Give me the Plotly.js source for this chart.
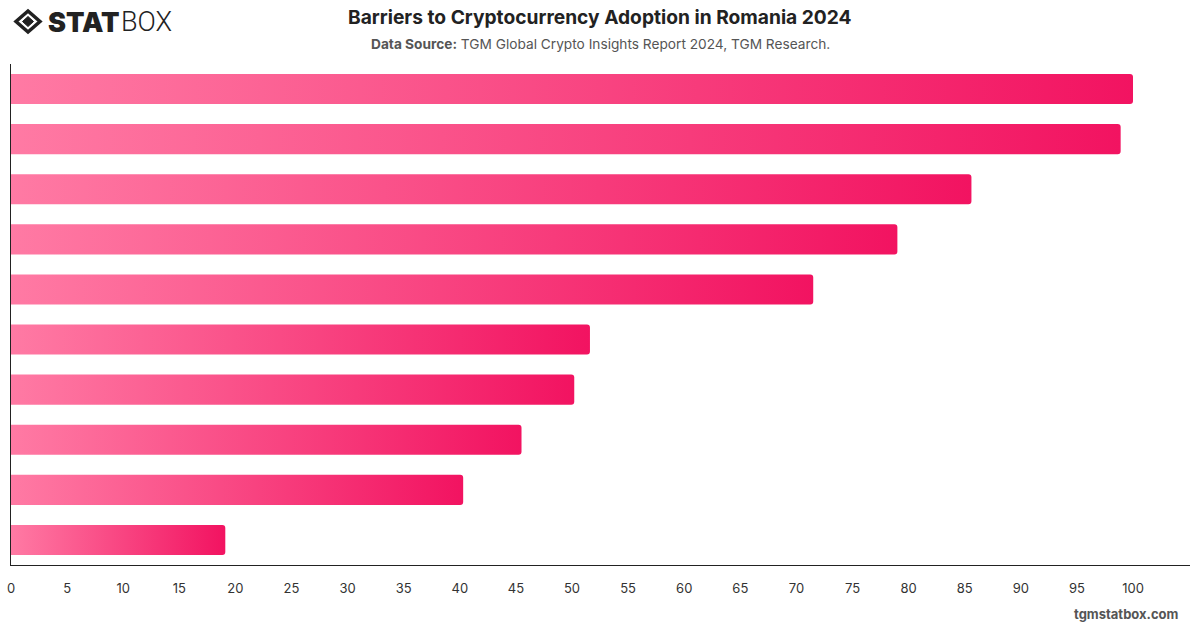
<!DOCTYPE html>
<html>
<head>
<meta charset="utf-8">
<script src="https://cdn.plot.ly/plotly-3.0.1.min.js"></script>
<style>
  html, body { margin: 0; padding: 0; background: #fff; }
  #chart { width: 1200px; height: 628px; }
</style>
</head>
<body>
<div id="chart"></div>
<script>
// Barriers ranked by share of respondents (index, top barrier = 100)
const categories = [
  "Barrier 1", "Barrier 2", "Barrier 3", "Barrier 4", "Barrier 5",
  "Barrier 6", "Barrier 7", "Barrier 8", "Barrier 9", "Barrier 10"
];
const values = [100, 98.9, 85.6, 79.0, 71.5, 51.6, 50.2, 45.5, 40.3, 19.1];
const xTicks = [0, 5, 10, 15, 20, 25, 30, 35, 40, 45, 50, 55, 60, 65, 70, 75, 80, 85, 90, 95, 100];

const W = 1200, H = 628;
const M = { l: 11, r: 10, t: 64, b: 63 };
// pixel -> paper helpers for the header/footer decorations
const px = x => (x - M.l) / (W - M.l - M.r);
const py = y => (H - M.b - y) / (H - M.t - M.b);

const FONT = "Inter, 'Open Sans', 'DejaVu Sans', sans-serif";

const trace = {
  type: "bar",
  orientation: "h",
  y: categories,
  x: values,
  marker: { color: "#F8407E", line: { width: 0 } },
  hoverinfo: "x"
};

// diamond logo mark
function diamond(cx, cy, rx, ry) {
  return `M ${px(cx)} ${py(cy - ry)} L ${px(cx + rx)} ${py(cy)} L ${px(cx)} ${py(cy + ry)} L ${px(cx - rx)} ${py(cy)} Z`;
}

const layout = {
  width: W, height: H,
  margin: M,
  paper_bgcolor: "#fff",
  plot_bgcolor: "#fff",
  bargap: 0.4,
  barcornerradius: 3,
  showlegend: false,
  font: { family: FONT, color: "#333" },
  xaxis: {
    range: [0, 105.08],
    tickvals: xTicks,
    ticktext: xTicks.map(String),
    showgrid: false,
    zeroline: false,
    showline: true,
    linecolor: "#222",
    linewidth: 1.2,
    ticks: "",
    ticklabelstandoff: 11,
    tickfont: { size: 13, color: "#333", family: FONT },
    fixedrange: true
  },
  yaxis: {
    autorange: "reversed",
    showticklabels: false,
    showgrid: false,
    zeroline: false,
    showline: true,
    linecolor: "#222",
    linewidth: 1.2,
    ticks: "",
    fixedrange: true
  },
  shapes: [
    { type: "path", xref: "paper", yref: "paper", path: diamond(28, 21.5, 12, 10.5),
      line: { color: "#222", width: 3.5 }, fillcolor: "rgba(0,0,0,0)" },
    { type: "path", xref: "paper", yref: "paper", path: diamond(28, 21.5, 5.5, 5),
      line: { color: "#222", width: 1 }, fillcolor: "#222" }
  ],
  annotations: [
    { xref: "paper", yref: "paper", x: px(46), y: py(22), xanchor: "left", yanchor: "middle",
      text: "STAT", showarrow: false,
      font: { family: "Inter, 'DejaVu Sans', sans-serif", size: 27, weight: 900, color: "#222" } },
    { xref: "paper", yref: "paper", x: px(119), y: py(22), xanchor: "left", yanchor: "middle",
      text: "BOX", showarrow: false,
      font: { family: "'Liberation Sans Narrow', 'Roboto', sans-serif", size: 27, weight: 300, color: "#222" } },
    { xref: "paper", yref: "paper", x: px(600), y: py(17), xanchor: "center", yanchor: "middle",
      text: "<b>Barriers to Cryptocurrency Adoption in Romania 2024</b>", showarrow: false,
      font: { family: FONT, size: 19.2, color: "#222" } },
    { xref: "paper", yref: "paper", x: px(600), y: py(44), xanchor: "center", yanchor: "middle",
      text: "<b>Data Source:</b> TGM Global Crypto Insights Report 2024, TGM Research.", showarrow: false,
      font: { family: FONT, size: 13.7, color: "#555" } },
    { xref: "paper", yref: "paper", x: px(1181), y: py(614), xanchor: "right", yanchor: "middle",
      text: "<b>tgmstatbox.com</b>", showarrow: false,
      font: { family: FONT, size: 13, color: "#555" } }
  ]
};

// left-to-right pink gradient applied to every bar
function applyGradient(gd) {
  const svg = gd.querySelector("svg.main-svg");
  if (!svg) return;
  const ns = "http://www.w3.org/2000/svg";
  let defs = svg.querySelector("defs");
  if (!defs) { defs = document.createElementNS(ns, "defs"); svg.insertBefore(defs, svg.firstChild); }
  if (!svg.querySelector("#barGrad")) {
    const g = document.createElementNS(ns, "linearGradient");
    g.setAttribute("id", "barGrad");
    g.setAttribute("x1", "0"); g.setAttribute("y1", "0");
    g.setAttribute("x2", "1"); g.setAttribute("y2", "0");
    [["0%", "#FF7AA4"], ["100%", "#F21361"]].forEach(([o, c]) => {
      const s = document.createElementNS(ns, "stop");
      s.setAttribute("offset", o); s.setAttribute("stop-color", c);
      g.appendChild(s);
    });
    defs.appendChild(g);
  }
  gd.querySelectorAll(".trace.bars .point path").forEach(p => {
    p.style.fill = "url(#barGrad)";
    p.style.fillOpacity = 1;
  });
}

const gd = document.getElementById("chart");
Plotly.newPlot(gd, [trace], layout, { displayModeBar: false, staticPlot: true })
  .then(() => applyGradient(gd));
</script>
</body>
</html>
